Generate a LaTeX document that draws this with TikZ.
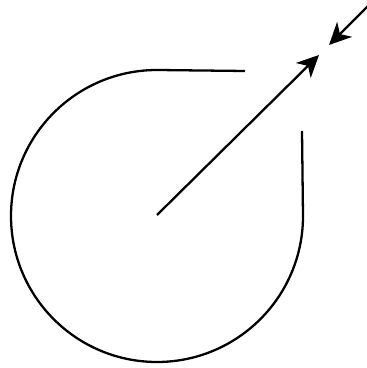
\documentclass[tikz,border=0pt]{standalone}
\usetikzlibrary{arrows.meta}
\tikzset{
  curve/.style={line width=1.3pt, black},
  ray/.style={-{Stealth[length=4.4mm, width=4.2mm, inset=1.3mm]}, line width=1.3pt, black},
}
\begin{document}
\begin{tikzpicture}[x=0.02cm,y=0.02cm]
\useasboundingbox (0,0) rectangle (366,368);
% ============ points =========================================================
\coordinate (ctr) at (157,153);
\coordinate (gapL) at (245,297);
\coordinate (topM) at (157,298);
\coordinate (gapR) at (302,237);
\coordinate (tipIn) at (319,313);
\coordinate (farOut) at (374,368);
\coordinate (tipOut) at (329,323);
% ============ open loop ======================================================
\draw[curve] (gapL) -- (topM) arc[start angle=90, end angle=360, radius=146]
  -- (gapR);
% ============ rays ===========================================================
\draw[ray] (ctr) -- (tipIn);
\draw[ray] (farOut) -- (tipOut);
\end{tikzpicture}
\end{document}
